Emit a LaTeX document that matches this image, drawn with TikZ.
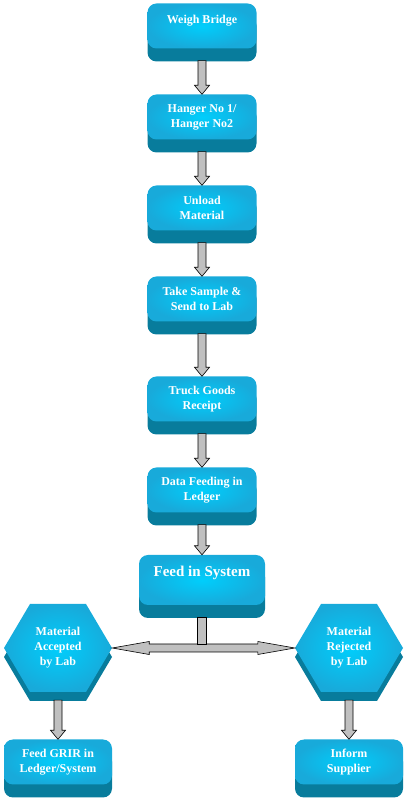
\documentclass[tikz,border=0pt]{standalone}
\usepackage{fontspec}
\setmainfont{Liberation Serif}[BoldFont={Liberation Serif Bold}]
\usetikzlibrary{calc,shadows}

\begin{document}
\begin{tikzpicture}[x=1pt,y=1pt,
    boxtext/.style={inner sep=2pt, align=center, text=white,
        font=\bfseries\fontsize{12}{15}\selectfont},
    stepbox/.style={boxtext, shade, inner color=facelight, outer color=facecol,
        rounded corners=9pt, minimum width=109pt, minimum height=45pt,
        drop shadow={shadow xshift=0pt, shadow yshift=-13pt, opacity=1, fill=bandcol}},
    labhex/.style={boxtext, minimum width=108pt, minimum height=88pt},
    blockarrow/.style={fill=arrowgray, draw=black, line width=0.6pt, line join=miter}]
    \definecolor{facecol}{RGB}{24,170,218}
    \definecolor{facelight}{RGB}{0,206,252}
    \definecolor{bandcol}{RGB}{8,124,156}
    \definecolor{arrowgray}{RGB}{192,192,192}

    \useasboundingbox (0,0) rectangle (407,800);

    % main column
    \node[stepbox, text depth=13pt] (wb) at (202,774) {Weigh Bridge};
    \node[stepbox] (hb) at (202,683) {Hanger No 1/\\Hanger No2};
    \node[stepbox] (ul) at (202,592) {Unload\\Material};
    \node[stepbox] (ts) at (202,501) {Take Sample \&\\Send to Lab};
    \node[stepbox] (tg) at (202,401) {Truck Goods\\Receipt};
    \node[stepbox] (df) at (202,310) {Data Feeding in\\Ledger};
    \node[stepbox, minimum width=126pt, minimum height=50pt, text depth=18pt,
        font=\bfseries\fontsize{15}{18}\selectfont] (fs) at (202,220) {Feed in System};

    % lab result hexagons
    \foreach \cx in {58,349} {
        \fill[bandcol] (\cx-54,143) -- (\cx-28,187) -- (\cx+28,187) -- (\cx+54,143)
            -- (\cx+28,99) -- (\cx-28,99) -- cycle;
        \shade[inner color=facelight, outer color=facecol] (\cx-54,152) -- (\cx-28,196)
            -- (\cx+28,196) -- (\cx+54,152) -- (\cx+28,108) -- (\cx-28,108) -- cycle;
    }
    \node[labhex] (acc) at (58,152) {Material\\Accepted\\by Lab};
    \node[labhex] (rej) at (349,152) {Material\\Rejected\\by Lab};
    \node[stepbox, minimum width=108pt] (gr) at (58,38) {Feed GRIR in\\Ledger/System};
    \node[stepbox, minimum width=108pt] (sup) at (349,38) {Inform\\Supplier};

    % arrows
    \foreach \a/\b/\d in {wb/hb/12, hb/ul/12, ul/ts/12, ts/tg/12, tg/df/12, df/fs/12, acc/gr/8, rej/sup/8} {
        \draw[blockarrow] ($(\a.south)+(-4,-\d)$) -- ($(\b.north)+(-4,9)$)
            -- ($(\b.north)+(-7.5,9)$) -- (\b.north) -- ($(\b.north)+(7.5,9)$)
            -- ($(\b.north)+(4,9)$) -- ($(\a.south)+(4,-\d)$) -- cycle;
    }

    \draw[blockarrow] (acc.east) -- ($(acc.east)+(37,6.5)$) -- ($(acc.east)+(37,4)$)
        -- ($(rej.west)+(-37,4)$) -- ($(rej.west)+(-37,6.5)$) -- (rej.west)
        -- ($(rej.west)+(-37,-6.5)$) -- ($(rej.west)+(-37,-4)$)
        -- ($(acc.east)+(37,-4)$) -- ($(acc.east)+(37,-6.5)$) -- cycle;
    \coordinate (fork) at (fs.south |- acc.east);
    \draw[blockarrow] ($(fs.south)+(-4.5,-12)$) rectangle ($(fork)+(4.5,4)$);
\end{tikzpicture}
\end{document}
